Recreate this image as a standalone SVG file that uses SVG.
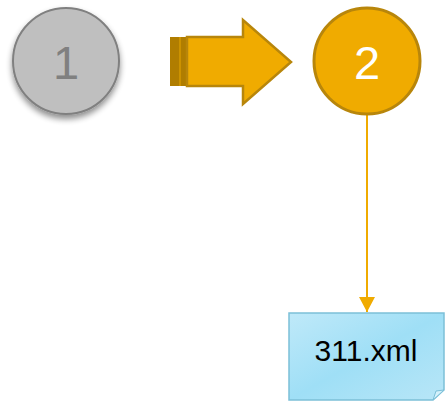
<svg xmlns="http://www.w3.org/2000/svg" width="446" height="401" viewBox="0 0 446 401">
<defs>
<filter id="sh" x="-30%" y="-30%" width="160%" height="170%">
<feGaussianBlur in="SourceAlpha" stdDeviation="3"/>
<feOffset dx="0" dy="4" result="b"/>
<feComponentTransfer><feFuncA type="linear" slope="0.45"/></feComponentTransfer>
<feMerge><feMergeNode/><feMergeNode in="SourceGraphic"/></feMerge>
</filter>
<linearGradient id="blue" x1="0" y1="0" x2="1" y2="1">
<stop offset="0" stop-color="#bfe9f9"/>
<stop offset="0.5" stop-color="#9fdff6"/>
<stop offset="1" stop-color="#b8e6f7"/>
</linearGradient>
<marker id="ah" markerWidth="16" markerHeight="16" refX="15" refY="8" orient="auto" markerUnits="userSpaceOnUse" viewBox="0 0 16 16">
<path d="M0,0 L15,8 L0,16 Z" fill="#f0ab00"/>
</marker>
<style>
.lbl{font-family:"Liberation Sans",Arial,sans-serif;text-anchor:middle}
</style>
</defs>
<g id="connectors">
<line x1="367" y1="115" x2="367" y2="312" stroke="#f0ab00" stroke-width="2" marker-end="url(#ah)"/>
</g>
<g id="node1">
<circle cx="66" cy="61" r="53" fill="#bfbfbf" stroke="#808080" stroke-width="2" filter="url(#sh)"/>
<text class="lbl" x="66" y="79" font-size="47" fill="#808080">1</text>
</g>
<g id="arrow">
<rect x="170" y="37" width="17" height="49" fill="#b07d00"/>
<line x1="180" y1="37" x2="180" y2="86" stroke="#e0a000" stroke-width="1.2"/>
<path d="M187,37 L243,37 L243,20 L291,62 L243,104 L243,86 L187,86 Z" fill="#f0ab00" stroke="#b8860b" stroke-width="2.5" stroke-linejoin="miter"/>
</g>
<g id="node2">
<circle cx="367" cy="61" r="53" fill="#f0ab00" stroke="#b8860b" stroke-width="3"/>
<text class="lbl" x="367" y="79" font-size="47" fill="#ffffff">2</text>
</g>
<g id="file">
<path d="M289,313 L444,313 L444,390 L433,400 L289,400 Z" fill="url(#blue)" stroke="#7cc0d8" stroke-width="1.5"/>
<path d="M444,390 L433,400 L436,391 Z" fill="#d4f1fb" stroke="#7cc0d8" stroke-width="1"/>
<text class="lbl" x="366" y="361" font-size="30" fill="#000000">311.xml</text>
</g>
</svg>
